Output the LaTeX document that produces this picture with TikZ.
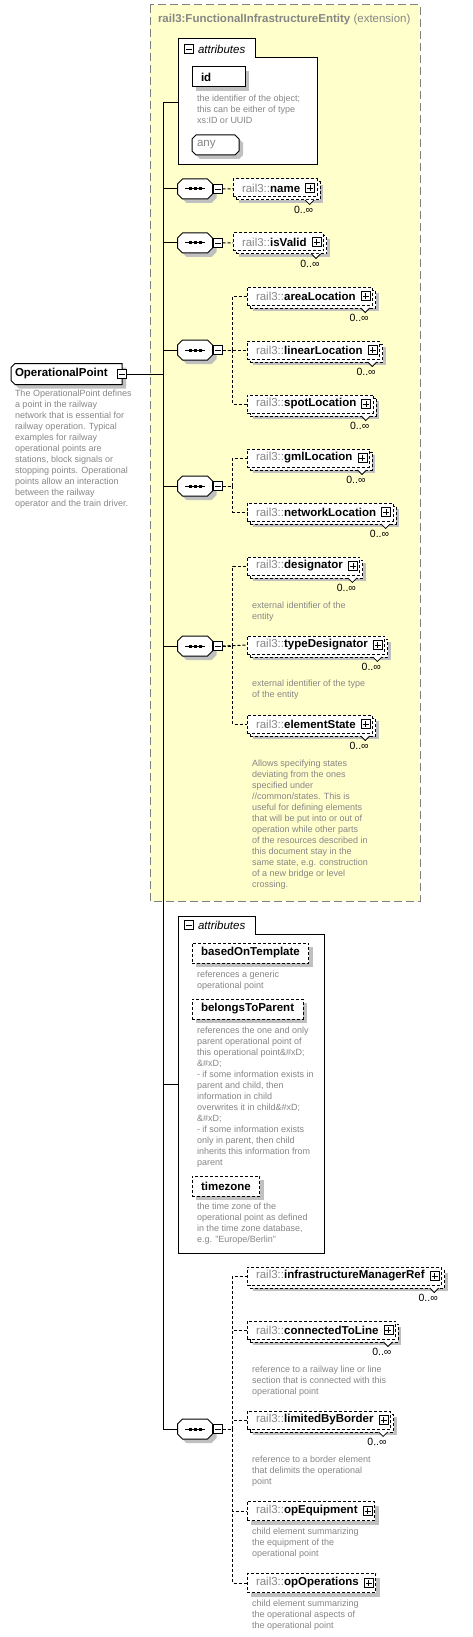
\documentclass[tikz,border=0pt]{standalone}
\usepackage{fontspec}
\setmainfont{Liberation Sans}
\usetikzlibrary{positioning,shadows}
\definecolor{descgray}{RGB}{134,134,134}
\definecolor{shadowgray}{RGB}{192,192,192}
\definecolor{extyellow}{RGB}{255,255,204}
\definecolor{bordergray}{RGB}{128,128,128}

\begin{document}
\begin{tikzpicture}[x=1pt, y=-1pt, line width=1pt, font=\fontsize{11.5}{13}\selectfont]
	\tikzset{every node/.style={inner sep=0pt, outer sep=0pt},
		desc/.style={anchor=north west, align=left, text=descgray, font=\fontsize{9}{11}\selectfont},
		optlink/.style={dash pattern=on 3pt off 2pt},
		gshadow/.style={general shadow={shadow xshift=4pt, shadow yshift=-4pt, fill=shadowgray}},
		elem/.style={draw, optlink, fill=white, anchor=west, minimum height=19pt, inner xsep=9pt, gshadow},
		elemmany/.style={draw, optlink, fill=white, anchor=west, minimum height=18pt, inner xsep=9pt,
			general shadow={shadow xshift=6pt, shadow yshift=-6pt, fill=shadowgray},
			general shadow={shadow xshift=3pt, shadow yshift=-3pt, fill=white, draw=black, optlink}},
		attrel/.style={draw, optlink, fill=white, anchor=west, minimum height=20pt, inner xsep=9pt, gshadow},
		plusbox/.style={draw, solid, fill=white, minimum size=9pt, line width=0.8pt,
			path picture={\draw ([xshift=-3pt]path picture bounding box.center) -- ([xshift=3pt]path picture bounding box.center)
				([yshift=-3pt]path picture bounding box.center) -- ([yshift=3pt]path picture bounding box.center);}},
		minusbox/.style={draw, solid, fill=white, minimum size=9pt, line width=0.8pt,
			path picture={\draw ([xshift=-3pt]path picture bounding box.center) -- ([xshift=3pt]path picture bounding box.center);}},
		seq/.style={minimum width=35pt, minimum height=20pt},
		many/.style={font=\fontsize{10.5}{12}\selectfont, anchor=north east}}
	\useasboundingbox (0,0) rectangle (473,1637);

	% extension box
	\draw[bordergray, fill=extyellow, dash pattern=on 8pt off 4pt] (150,5) rectangle (420,901);
	\node[anchor=west, text=descgray] (ext) at (158,20) {\textbf{rail3:FunctionalInfrastructureEntity} (extension)};

	% root element
	\node[anchor=west, minimum width=111pt, minimum height=21pt] (op) at (11,374) {};
	\draw[fill=white, gshadow] ([xshift=4pt]op.north west) -- (op.north east) -- (op.south east) -- ([xshift=4pt]op.south west)
		-- ([yshift=4pt]op.south west) -- ([yshift=-4pt]op.north west) -- cycle;
	\node[anchor=west] (opt) at ([xshift=4pt]op.west) {\textbf{OperationalPoint}};
	\node[minusbox] (opm) at (op.east) {};
	\node[desc] (opd) at (15,390) {The OperationalPoint defines\\a point in the railway\\network that is essential for\\railway operation. Typical\\examples for railway\\operational points are\\stations, block signals or\\stopping points. Operational\\points allow an interaction\\between the railway\\operator and the train driver.};

	% trunk
	\coordinate (trunkTop) at (163,103);
	\coordinate (trunkBot) at (163,1429);
	\draw (trunkTop) -- (trunkBot);
	\draw (opm.east) -- (opm.east -| trunkTop);

	% attributes of the extension
	\draw[fill=white] (178,165) |- (255,39) |- (317,58) -- (317,165) -- cycle;
	\coordinate (attrA) at (178,103);
	\draw (trunkTop) -- (attrA);
	\node[minusbox] (attrAm) at (188.5,49) {};
	\node[anchor=west] (attrAt) at (198,49) {\textit{attributes}};
	\node[draw, fill=white, gshadow, anchor=west, text width=35pt, align=left, inner xsep=9pt, minimum height=20pt] (id) at (192,77) {\textbf{id}};
	\node[desc] (idd) at (197,95) {the identifier of the object;\\this can be either of type\\xs:ID or UUID};
	\node[anchor=west, minimum width=47pt, minimum height=20pt] (any) at (192,145) {};
	\draw[fill=white, gshadow] ([xshift=4pt]any.north west) -- ([xshift=-4pt]any.north east) -- ([yshift=-4pt]any.north east)
		-- ([yshift=4pt]any.south east) -- ([xshift=-4pt]any.south east) -- ([xshift=4pt]any.south west)
		-- ([yshift=4pt]any.south west) -- ([yshift=-4pt]any.north west) -- cycle;
	\node[anchor=west, text=descgray] (anyt) at ([xshift=5pt]any.west) {any};

	% sequences
	\node[seq] (s1) at (195,189) {};
	\node[seq] (s2) at (195,243) {};
	\node[seq] (s3) at (195,350) {};
	\node[seq] (s4) at (195,486) {};
	\node[seq] (s5) at (195,646) {};
	\node[seq] (s6) at (195,1429) {};
	\draw (s1.west) -- (s1.west -| trunkTop);
	\draw (s2.west) -- (s2.west -| trunkTop);
	\draw (s3.west) -- (s3.west -| trunkTop);
	\draw (s4.west) -- (s4.west -| trunkTop);
	\draw (s5.west) -- (s5.west -| trunkTop);
	\draw (s6.west) -- (s6.west -| trunkTop);
	\foreach \s in {s1,s2,s3,s4,s5,s6}{
		\draw[fill=white, gshadow] ([xshift=5pt]\s.north west) -- ([xshift=-5pt]\s.north east) -- ([yshift=-5pt]\s.north east)
			-- ([yshift=5pt]\s.south east) -- ([xshift=-5pt]\s.south east) -- ([xshift=5pt]\s.south west)
			-- ([yshift=5pt]\s.south west) -- ([yshift=-5pt]\s.north west) -- cycle;
		\draw ([xshift=-10pt]\s.center) -- ([xshift=10pt]\s.center);
		\fill ([xshift=-5pt]\s.center) +(-1.5,-1.5) rectangle +(1.5,1.5);
		\fill (\s.center) +(-1.5,-1.5) rectangle +(1.5,1.5);
		\fill ([xshift=5pt]\s.center) +(-1.5,-1.5) rectangle +(1.5,1.5);
	}
	\node[minusbox, right=1pt of s1] (s1m) {};
	\node[minusbox, right=1pt of s2] (s2m) {};
	\node[minusbox, right=1pt of s3] (s3m) {};
	\node[minusbox, right=1pt of s4] (s4m) {};
	\node[minusbox, right=1pt of s5] (s5m) {};
	\node[minusbox, right=1pt of s6] (s6m) {};

	% elements
	\node[elemmany] (nm) at (233,188) {{\color{descgray}rail3::}\textbf{name}\hspace*{8pt}};
	\node[elemmany] (valid) at (233,242) {{\color{descgray}rail3::}\textbf{isValid}\hspace*{8pt}};
	\node[elemmany] (area) at (247,296) {{\color{descgray}rail3::}\textbf{areaLocation}\hspace*{8pt}};
	\node[elemmany] (linear) at (247,350) {{\color{descgray}rail3::}\textbf{linearLocation}\hspace*{8pt}};
	\node[elemmany] (spot) at (247,404) {{\color{descgray}rail3::}\textbf{spotLocation}\hspace*{8pt}};
	\node[elemmany] (gml) at (247,458) {{\color{descgray}rail3::}\textbf{gmlLocation}\hspace*{8pt}};
	\node[elemmany] (network) at (247,512) {{\color{descgray}rail3::}\textbf{networkLocation}\hspace*{8pt}};
	\node[elemmany] (desig) at (247,566) {{\color{descgray}rail3::}\textbf{designator}\hspace*{8pt}};
	\node[elemmany] (typeDesig) at (247,645) {{\color{descgray}rail3::}\textbf{typeDesignator}\hspace*{8pt}};
	\node[elemmany] (state) at (247,724) {{\color{descgray}rail3::}\textbf{elementState}\hspace*{8pt}};
	\node[elemmany] (manager) at (247,1276) {{\color{descgray}rail3::}\textbf{infrastructureManagerRef}\hspace*{8pt}};
	\node[elemmany] (toLine) at (247,1330) {{\color{descgray}rail3::}\textbf{connectedToLine}\hspace*{8pt}};
	\node[elemmany] (border) at (247,1420) {{\color{descgray}rail3::}\textbf{limitedByBorder}\hspace*{8pt}};
	\node[elem] (equip) at (247,1511) {{\color{descgray}rail3::}\textbf{opEquipment}\hspace*{8pt}};
	\node[elem] (ops) at (247,1583) {{\color{descgray}rail3::}\textbf{opOperations}\hspace*{8pt}};

	\draw[optlink] (s1m) -- (nm);
	\draw[optlink] (s2m) -- (valid);
	\draw[optlink] (s3m.east) -- ++(10,0) |- (area.west);
	\draw[optlink] (s3m.east) -- (linear.west);
	\draw[optlink] (s3m.east) -- ++(10,0) |- (spot.west);
	\draw[optlink] (s4m.east) -- ++(10,0) |- (gml.west);
	\draw[optlink] (s4m.east) -- ++(10,0) |- (network.west);
	\draw[optlink] (s5m.east) -- ++(10,0) |- (desig.west);
	\draw[optlink] (s5m.east) -- (typeDesig.west);
	\draw[optlink] (s5m.east) -- ++(10,0) |- (state.west);
	\draw[optlink] (s6m.east) -- ++(10,0) |- (manager.west);
	\draw[optlink] (s6m.east) -- ++(10,0) |- (toLine.west);
	\draw[optlink] (s6m.east) -- ++(10,0) |- (border.west);
	\draw[optlink] (s6m.east) -- ++(10,0) |- (equip.west);
	\draw[optlink] (s6m.east) -- ++(10,0) |- (ops.west);

	\foreach \n in {nm,valid,area,linear,spot,gml,network,desig,typeDesig,state,manager,toLine,border,equip,ops}
		\node[plusbox] at ([xshift=-7pt]\n.east) {};
	\foreach \n in {nm,valid,area,linear,spot,gml,network,desig,typeDesig,state,manager,toLine,border}{
		\draw[fill=white, line width=0.8pt] ([xshift=-12pt,yshift=-3pt]\n.south east) -- ++(4.5,4.5) -- ++(4.5,-4.5);
		\node[many] at ([xshift=-4pt,yshift=-9pt]\n.south east) {0..∞};
	}

	\node[desc] at (252,602) {external identifier of the\\entity};
	\node[desc] at (252,680) {external identifier of the type\\of the entity};
	\node[desc] at (252,760) {Allows specifying states\\deviating from the ones\\specified under\\//common/states. This is\\useful for defining elements\\that will be put into or out of\\operation while other parts\\of the resources described in\\this document stay in the\\same state, e.g. construction\\of a new bridge or level\\crossing.};

	% attributes of the element
	\draw[fill=white] (178,1253) |- (255,916) |- (324,934) -- (324,1253) -- cycle;
	\coordinate (attrB) at (178,1084);
	\draw (attrB) -- (attrB -| trunkTop);
	\node[minusbox] (attrBm) at (188.5,925) {};
	\node[anchor=west] (attrBt) at (198,925) {\textit{attributes}};
	\node[attrel] (based) at (192,953) {\textbf{basedOnTemplate}};
	\node[desc] at (197,971) {references a generic\\operational point};
	\node[attrel] (parent) at (192,1009) {\textbf{belongsToParent}};
	\node[desc] at (197,1027) {references the one and only\\parent operational point of\\this operational point\&\#xD;\\\&\#xD;\\- if some information exists in\\parent and child, then\\information in child\\overwrites it in child\&\#xD;\\\&\#xD;\\- if some information exists\\only in parent, then child\\inherits this information from\\parent};
	\node[attrel] (tz) at (192,1186) {\textbf{timezone}};
	\node[desc] at (197,1203) {the time zone of the\\operational point as defined\\in the time zone database,\\e.g. "Europe/Berlin"};

	\node[desc] at (252,1366) {reference to a railway line or line\\section that is connected with this\\operational point};
	\node[desc] at (252,1456) {reference to a border element\\that delimits the operational\\point};
	\node[desc] at (252,1528) {child element summarizing\\the equipment of the\\operational point};
	\node[desc] at (252,1600) {child element summarizing\\the operational aspects of\\the operational point};
\end{tikzpicture}
\end{document}
